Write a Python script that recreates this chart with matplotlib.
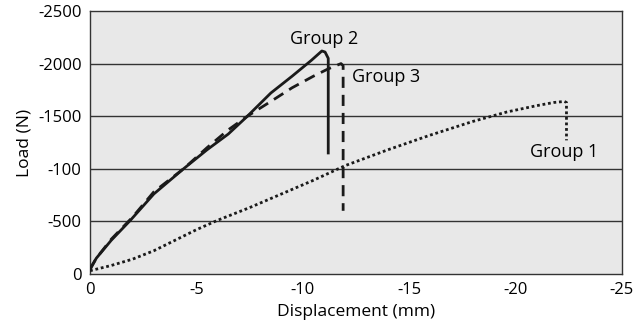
import matplotlib
matplotlib.use('Agg')
from matplotlib import pyplot as plt

plt.rcParams['font.family'] = ['Open Sans', 'DejaVu Sans']

# displacement (mm) / load (N)
g2_x = [0, -0.3, -1.0, -1.9, -3.0, -4.4, -5.5, -6.5, -7.4, -8.5, -9.5, -10.4, -10.9, -11.05, -11.2, -11.2]
g2_y = [-50, -150, -320, -510, -760, -1000, -1180, -1330, -1500, -1720, -1880, -2030, -2120, -2110, -2050, -1150]

g3_x = [0, -0.3, -1.0, -2.0, -3.0, -4.4, -5.5, -6.5, -7.4, -8.5, -9.5, -10.5, -11.2, -11.8, -11.9, -11.9]
g3_y = [-40, -150, -330, -540, -780, -1000, -1200, -1370, -1500, -1640, -1770, -1880, -1950, -2000, -1980, -600]

g1_x = [0, -1.0, -2.0, -3.0, -4.0, -5.0, -6.0, -7.5, -9.0, -10.5, -12.0, -14.0, -16.0, -18.0, -19.6, -21.0, -21.8, -22.3, -22.4, -22.4]
g1_y = [-30, -80, -140, -220, -320, -420, -510, -630, -760, -890, -1030, -1180, -1320, -1450, -1540, -1600, -1630, -1640, -1630, -1270]

y_ticks = [0, -500, -1000, -1500, -2000, -2500]
y_labels = ['0', '-500', '-100', '-1500', '-2000', '-2500']
x_ticks = [0, -5, -10, -15, -20, -25]
x_labels = ['0', '-5', '-10', '-15', '-20', '-25']

fig, ax = plt.subplots(figsize=(6.43, 3.34), dpi=100)
fig.subplots_adjust(left=0.14, right=0.967, top=0.967, bottom=0.18)
ax.set_facecolor('#e8e8e8')

for yv in y_ticks[1:-1]:
    ax.axhline(yv, color='#333333', lw=1.0, zorder=1)

ax.plot(g2_x, g2_y, color='#1a1a1a', lw=2.0, ls='-', zorder=3)
ax.plot(g3_x, g3_y, color='#1a1a1a', lw=2.0, ls=(0, (4, 2.5)), zorder=3)
ax.plot(g1_x, g1_y, color='#1a1a1a', lw=2.0, ls=(0, (1, 1)), zorder=3)

ax.text(-11.0, -2235, 'Group 2', fontsize=13, ha='center', va='center')
ax.text(-12.3, -1870, 'Group 3', fontsize=13, ha='left', va='center')
ax.text(-20.7, -1160, 'Group 1', fontsize=13, ha='left', va='center')

ax.set_xlim(0, -25)
ax.set_ylim(0, -2500)
ax.set_xticks(x_ticks)
ax.set_xticklabels(x_labels)
ax.set_yticks(y_ticks)
ax.set_yticklabels(y_labels)
ax.tick_params(length=0, labelsize=12, pad=6)
ax.set_xlabel('Displacement (mm)', fontsize=12.5, labelpad=4)
ax.set_ylabel('Load (N)', fontsize=12.5)
for s in ax.spines.values():
    s.set_color('#333333')
    s.set_linewidth(1.0)

fig.savefig('out.png', dpi=100)
